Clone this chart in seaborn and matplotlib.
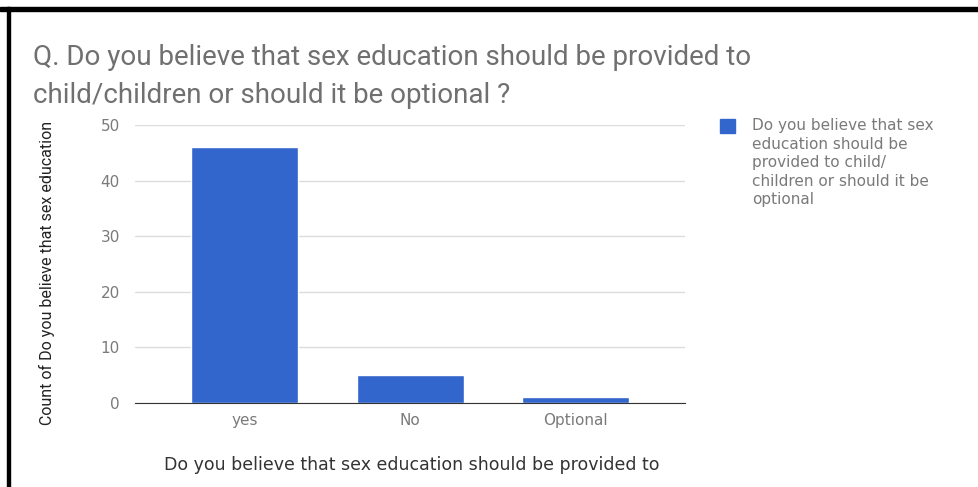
import pandas as pd
import matplotlib.pyplot as plt
import matplotlib.patches as mpatches
import seaborn as sns

answers = ["yes", "No", "Optional"]
counts = [46, 5, 1]
series_name = "Do you believe that sex\neducation should be\nprovided to child/\nchildren or should it be\noptional"
bar_color = "#3366CC"

df = pd.DataFrame({"answer": answers, "count": counts})

sns.set_style("white")
plt.rcParams['font.family'] = ['DejaVu Sans']

fig = plt.figure(figsize=(9.79, 4.87), dpi=100)
ax = fig.add_axes([0.138, 0.1725, 0.562, 0.5705])

sns.barplot(data=df, x="answer", y="count", color=bar_color, width=0.645,
            saturation=1, ax=ax)

ax.set_ylim(0, 50)
ax.set_xlim(-0.66, 2.66)
ax.set_yticks([0, 10, 20, 30, 40, 50])
ax.yaxis.grid(True, color="#dcdcdc", linewidth=1)
ax.set_axisbelow(True)
for s in ["top", "right", "left"]:
    ax.spines[s].set_visible(False)
ax.spines["bottom"].set_color("#333333")
ax.tick_params(axis="both", length=0, labelsize=11, labelcolor="#7a7a7a")
ax.tick_params(axis="x", pad=7)
ax.tick_params(axis="y", pad=11)

ax.set_xlabel("Do you believe that sex education should be provided to",
              fontsize=12.5, color="#333333")
ax.xaxis.set_label_coords(0.502, -0.223)
ax.xaxis.label.set_va("center")
ax.set_ylabel("Count of Do you believe that sex education", fontsize=11.5,
              color="#222222", family="Roboto")
ax.yaxis.set_label_coords(-0.16, 0.468)
ax.yaxis.label.set_va("center")

fig.text(0.034, 0.91, "Q. Do you believe that sex education should be provided to\nchild/children or should it be optional ?",
         fontsize=20, color="#707070", linespacing=1.55, va="top", family="Roboto")

# legend, marker aligned with first line like the google chart
fig.patches.append(mpatches.Rectangle((720 / 979, 1 - 133 / 487), 15 / 979, 14 / 487,
                                      transform=fig.transFigure, color=bar_color))
fig.text(752 / 979, 1 - 118 / 487, series_name, fontsize=11, color="#7a7a7a",
         va="top", linespacing=1.3)

# black frame from the screenshot
fig.patches.append(mpatches.Rectangle((0, 0.977), 1, 0.008, transform=fig.transFigure,
                                      color="black", zorder=10))
fig.patches.append(mpatches.Rectangle((0.007, 0), 0.003, 0.985, transform=fig.transFigure,
                                      color="black", zorder=10))

fig.savefig("out.png", dpi=100)
